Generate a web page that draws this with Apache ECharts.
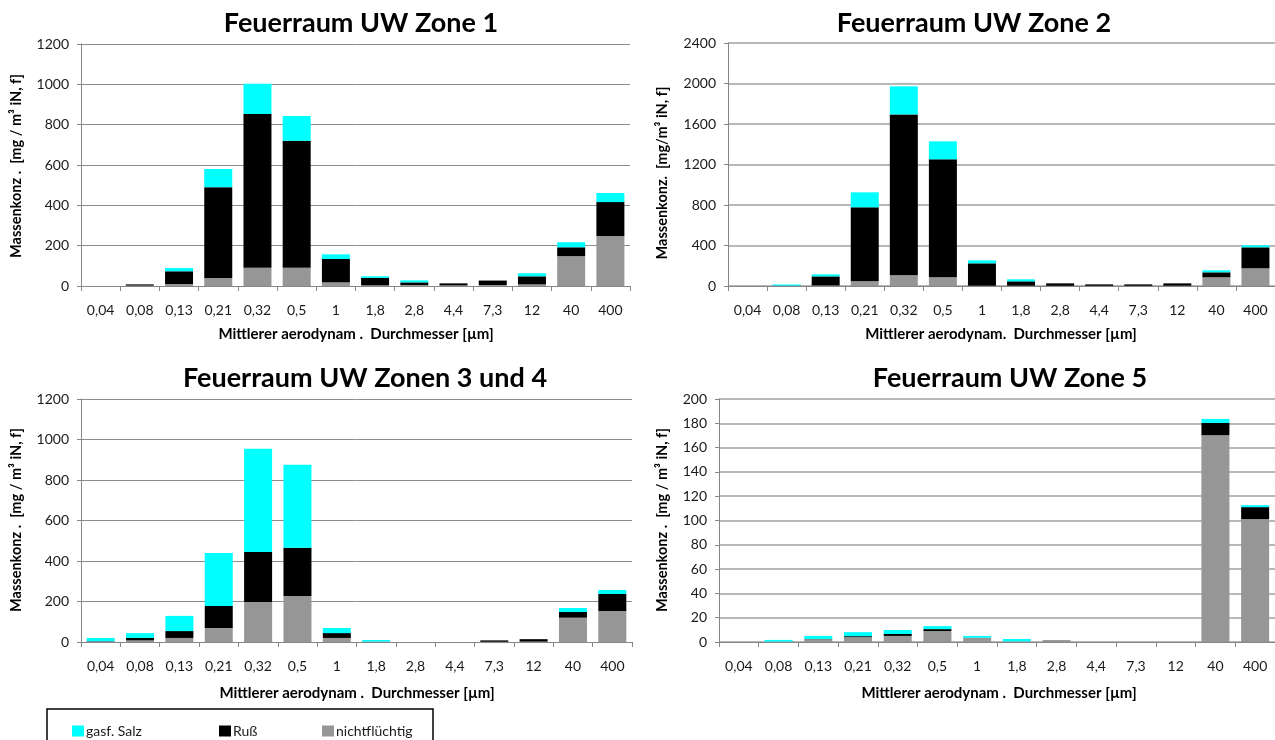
<!DOCTYPE html>
<html>
<head>
<meta charset="utf-8">
<script src="https://cdn.jsdelivr.net/npm/echarts@6/dist/echarts.min.js"></script>
<style>
html,body{margin:0;padding:0;background:#fff;}
#chart{width:1275px;height:740px;}
</style>
</head>
<body>
<div id="chart"></div>
<script>
const categories = ['0,04','0,08','0,13','0,21','0,32','0,5','1','1,8','2,8','4,4','7,3','12','40','400'];
const seriesNames = ['nichtflüchtig','Ruß','gasf. Salz'];

const zone1Nicht = [0, 2, 10, 40, 90, 90, 18, 3, 5, 3, 5, 8, 148, 248];
const zone1Russ  = [0, 6, 63, 450, 763, 630, 116, 37, 13, 10, 22, 40, 44, 168];
const zone1Salz  = [0, 0, 16, 90, 150, 123, 23, 8, 10, 0, 0, 15, 25, 45];

const zone2Nicht = [0, 0, 5, 46, 105, 86, 3, 3, 2, 2, 2, 3, 86, 175];
const zone2Russ  = [0, 3, 90, 731, 1590, 1165, 221, 43, 24, 14, 14, 23, 49, 207];
const zone2Salz  = [0, 12, 20, 148, 277, 178, 29, 20, 0, 0, 0, 0, 20, 20];

const zone34Nicht = [2, 8, 20, 69, 198, 227, 20, 1, 0, 0, 1, 2, 120, 153];
const zone34Russ  = [2, 12, 34, 109, 247, 238, 24, 1, 0, 0, 7, 12, 28, 84];
const zone34Salz  = [16, 24, 75, 262, 509, 410, 25, 8, 0, 0, 0, 0, 20, 20];

const zone5Nicht = [0, 0.3, 2.3, 4, 5, 9, 3.3, 0.5, 1.6, 0, 0, 0, 170.3, 101.2];
const zone5Russ  = [0, 0, 0.2, 0.8, 1.6, 1.6, 0.2, 0, 0, 0, 0, 0, 10, 9.8];
const zone5Salz  = [0, 1.4, 2.5, 3.3, 3.3, 2.5, 1.5, 2, 0, 0, 0, 0, 3.3, 1.6];

const titles = ['Feuerraum UW Zone 1','Feuerraum UW Zone 2','Feuerraum UW Zonen 3 und 4','Feuerraum UW Zone 5'];
const yTitles = ['Massenkonz .  [mg / m³ iN, f]','Massenkonz.  [mg/m³ iN, f]','Massenkonz .  [mg / m³ iN, f]','Massenkonz .  [mg / m³ iN, f]'];
const xTitles = ['Mittlerer aerodynam .  Durchmesser [µm]','Mittlerer aerodynam.  Durchmesser [µm]','Mittlerer aerodynam .  Durchmesser [µm]','Mittlerer aerodynam .  Durchmesser [µm]'];
const yMax = [1200, 2400, 1200, 200];
const yInterval = [200, 400, 200, 20];

const panelData = [
  [zone1Nicht, zone1Russ, zone1Salz],
  [zone2Nicht, zone2Russ, zone2Salz],
  [zone34Nicht, zone34Russ, zone34Salz],
  [zone5Nicht, zone5Russ, zone5Salz]
];
const colors = ['#969696', '#000000', '#00FFFF'];

const grids = [
  {left: 81, top: 44, width: 549, height: 242},
  {left: 728, top: 43, width: 550, height: 243},
  {left: 81, top: 399, width: 551, height: 243},
  {left: 719, top: 399, width: 559, height: 243}
];
const titlePos = [[361, 23], [974, 23], [365, 378], [1010, 378]];
const yTitlePos = [[16, 166], [662, 173], [16, 520], [662, 520]];
const xTitlePos = [[356, 334], [1001, 334], [357, 693], [999, 693]];
const gridLineStyle = [
  {color: '#8c8c8c', width: 1},
  {color: '#b8b8b8', width: 1.8},
  {color: '#8c8c8c', width: 1},
  {color: '#b8b8b8', width: 1.8}
];

const FONT = 'Lato, "Open Sans", sans-serif';
const axisGray = '#868686';

const xAxes = [], yAxes = [], series = [], graphics = [];
grids.forEach((g, i) => {
  xAxes.push({
    type: 'category', gridIndex: i, data: categories,
    axisLine: {lineStyle: {color: axisGray, width: 1}},
    axisTick: {show: true, alignWithLabel: false, length: 5, lineStyle: {color: axisGray}},
    axisLabel: {color: '#1a1a1a', fontFamily: FONT, fontSize: 14, margin: 17, interval: 0},
    splitLine: {show: false}
  });
  yAxes.push({
    type: 'value', gridIndex: i, min: 0, max: yMax[i], interval: yInterval[i],
    axisLine: {show: true, lineStyle: {color: axisGray, width: 1}},
    axisTick: {show: true, length: 4, lineStyle: {color: axisGray}},
    axisLabel: {color: '#1a1a1a', fontFamily: FONT, fontSize: 14, margin: 12,
      formatter: v => String(v)},
    splitLine: {show: true, lineStyle: gridLineStyle[i]}
  });
  panelData[i].forEach((arr, k) => {
    series.push({
      name: seriesNames[k], type: 'bar', stack: 'p' + i,
      xAxisIndex: i, yAxisIndex: i, data: arr,
      barWidth: 28, itemStyle: {color: colors[k]},
      emphasis: {disabled: true}, animation: false
    });
  });
  graphics.push({type: 'text', x: titlePos[i][0], y: titlePos[i][1],
    style: {text: titles[i], font: 'bold 27px ' + FONT, fill: '#000', textAlign: 'center', textVerticalAlign: 'middle'}});
  graphics.push({type: 'text', x: yTitlePos[i][0], y: yTitlePos[i][1], rotation: Math.PI / 2,
    style: {text: yTitles[i], font: 'bold 14.5px ' + FONT, fill: '#000', textAlign: 'center', textVerticalAlign: 'middle'}});
  graphics.push({type: 'text', x: xTitlePos[i][0], y: xTitlePos[i][1],
    style: {text: xTitles[i], font: 'bold 15px ' + FONT, fill: '#000', textAlign: 'center', textVerticalAlign: 'middle'}});
});

graphics.push({type: 'rect', shape: {x: 47, y: 709, width: 386, height: 40},
  style: {fill: 'none', stroke: '#000', lineWidth: 1.5}, z: 0});

const legendItems = [['gasf. Salz', 67], ['Ruß', 214], ['nichtflüchtig', 317]];
const legends = legendItems.map(([name, x]) => ({
  data: [name], left: x, top: 719, icon: 'rect', itemWidth: 12, itemHeight: 11, itemGap: 0,
  textStyle: {fontFamily: FONT, fontSize: 14, color: '#1a1a1a', padding: [0, 0, 0, -3]},
  selectedMode: false
}));

const chart = echarts.init(document.getElementById('chart'), null, {renderer: 'canvas'});
chart.setOption({
  animation: false,
  backgroundColor: '#fff',
  grid: grids,
  xAxis: xAxes,
  yAxis: yAxes,
  series: series,
  legend: legends,
  graphic: graphics
});
</script>
</body>
</html>
